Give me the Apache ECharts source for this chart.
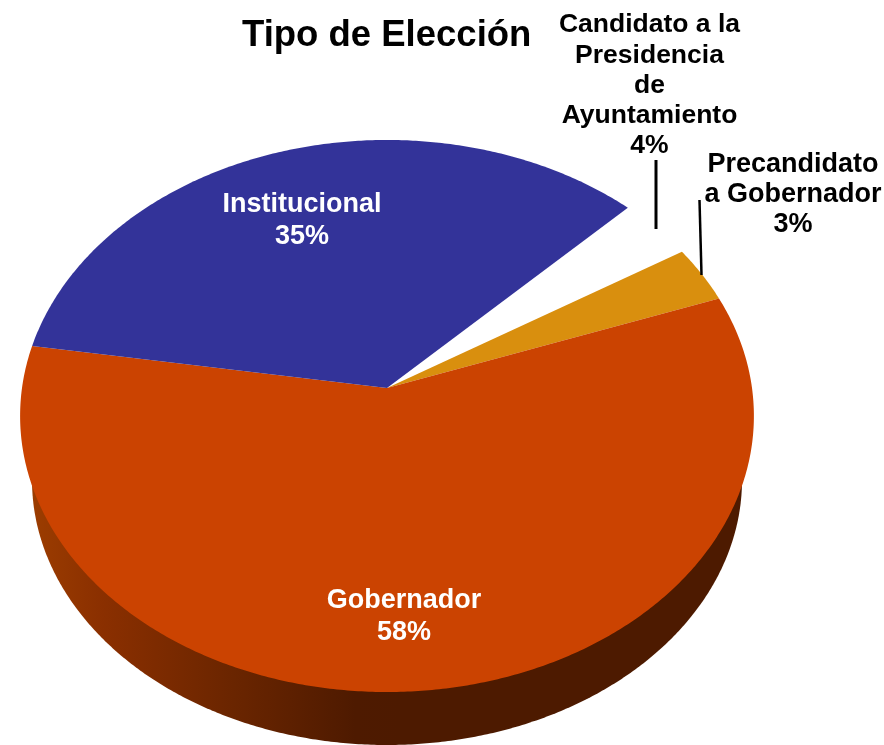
<!DOCTYPE html>
<html>
<head>
<meta charset="utf-8">
<style>html,body{margin:0;padding:0;background:#fff}#c{width:884px;height:745px}</style>
<script src="https://cdn.jsdelivr.net/npm/echarts@6/dist/echarts.min.js"></script>
</head>
<body>
<div id="c"></div>
<script>
// Data. Slices run clockwise from startDeg.
var titleText = 'Tipo de Elección';
var categories = ['Candidato a la\nPresidencia\nde\nAyuntamiento', 'Precandidato\na Gobernador', 'Gobernador', 'Institucional'];
var values = [3.7, 3.3, 58, 35];
var percentLabels = ['4%', '3%', '58%', '35%'];
var sliceColors = ['#ffffff', '#d98f0e', '#cb4301', '#333399'];

// Layout
var startDeg = 45;
var apex = { x: 387, y: 388 }, RX = 365, RY = 273.2, K = 0.1014;
var wallEllipse = { x: 387, y: 480, rx: 355, ry: 265 };
var labelPos = [
  { x: 649.5, y: 10, c: '#000', f: 26.5, lh: 30.2 },
  { x: 793, y: 150, c: '#000', f: 27, lh: 30 },
  { x: 404, y: 585, c: '#fff', f: 27, lh: 31.5 },
  { x: 302, y: 189, c: '#fff', f: 27, lh: 31.5 }
];
var leaders = [
  [[656, 160], [656, 229]],
  [[699.5, 200], [701.5, 275]]
];

function top3d(deg) {
  var a = deg * Math.PI / 180, u = Math.sin(a), v = Math.cos(a), w = 1 + K * v;
  return [apex.x + RX * u / w, apex.y - RY * v / w];
}
function wall3d(deg) {
  var a = deg * Math.PI / 180;
  return [wallEllipse.x + wallEllipse.rx * Math.sin(a), wallEllipse.y - wallEllipse.ry * Math.cos(a)];
}
function arc(fn, from, to) {
  var pts = [], n = Math.max(2, Math.ceil((to - from) * 2));
  for (var i = 0; i <= n; i++) pts.push(fn(from + (to - from) * i / n));
  return pts;
}
var total = values.reduce(function (s, v) { return s + v; }, 0);
function startOf(idx) {
  var s = startDeg;
  for (var i = 0; i < idx; i++) s += values[i] / total * 360;
  return s;
}

var wallGradient = new echarts.graphic.LinearGradient(30, 0, 400, 0, [
  { offset: 0, color: '#9c3d00' },
  { offset: 0.2, color: '#8a2f00' },
  { offset: 0.55, color: '#6a2500' },
  { offset: 0.88, color: '#4e1a00' },
  { offset: 1, color: '#4d1a00' }
], true);

var option = {
  animation: false,
  backgroundColor: '#fff',
  title: {
    text: titleText, left: 237, top: 12,
    textStyle: { fontFamily: 'Liberation Sans', fontWeight: 'bold', fontSize: 36.5, color: '#000' }
  },
  series: [
    { // side wall
      type: 'custom', coordinateSystem: 'none', silent: true, z: 1,
      data: [values[2]],
      renderItem: function (p, api) {
        var from = startOf(2), to = from + api.value(0) / total * 360;
        return { type: 'polygon', shape: { points: arc(wall3d, from, to) }, style: { fill: wallGradient } };
      }
    },
    { // top faces
      type: 'custom', coordinateSystem: 'none', silent: true, z: 2,
      data: values.map(function (v) { return [v]; }),
      renderItem: function (p, api) {
        var from = startOf(p.dataIndex), to = from + api.value(0) / total * 360;
        var pts = [[apex.x, apex.y]].concat(arc(top3d, from, to));
        return { type: 'polygon', shape: { points: pts }, style: { fill: sliceColors[p.dataIndex] } };
      }
    },
    { // leader lines
      type: 'custom', coordinateSystem: 'none', silent: true, z: 3,
      data: leaders.map(function (l, i) { return [i]; }),
      renderItem: function (p) {
        var l = leaders[p.dataIndex];
        return { type: 'polyline', shape: { points: l }, style: { stroke: '#000', lineWidth: p.dataIndex ? 2.5 : 3, fill: null } };
      }
    },
    { // labels
      type: 'custom', coordinateSystem: 'none', silent: true, z: 4,
      data: categories.map(function (c, i) { return [i]; }),
      renderItem: function (p) {
        var i = p.dataIndex, pos = labelPos[i];
        return {
          type: 'text', x: pos.x, y: pos.y,
          style: {
            text: categories[i] + '\n' + percentLabels[i],
            fill: pos.c, align: 'center', verticalAlign: 'top',
            font: 'bold ' + pos.f + 'px "Liberation Sans"', lineHeight: pos.lh
          }
        };
      }
    }
  ]
};
var chart = echarts.init(document.getElementById('c'), null, { renderer: 'canvas', width: 884, height: 745 });
chart.setOption(option);
</script>
</body>
</html>
